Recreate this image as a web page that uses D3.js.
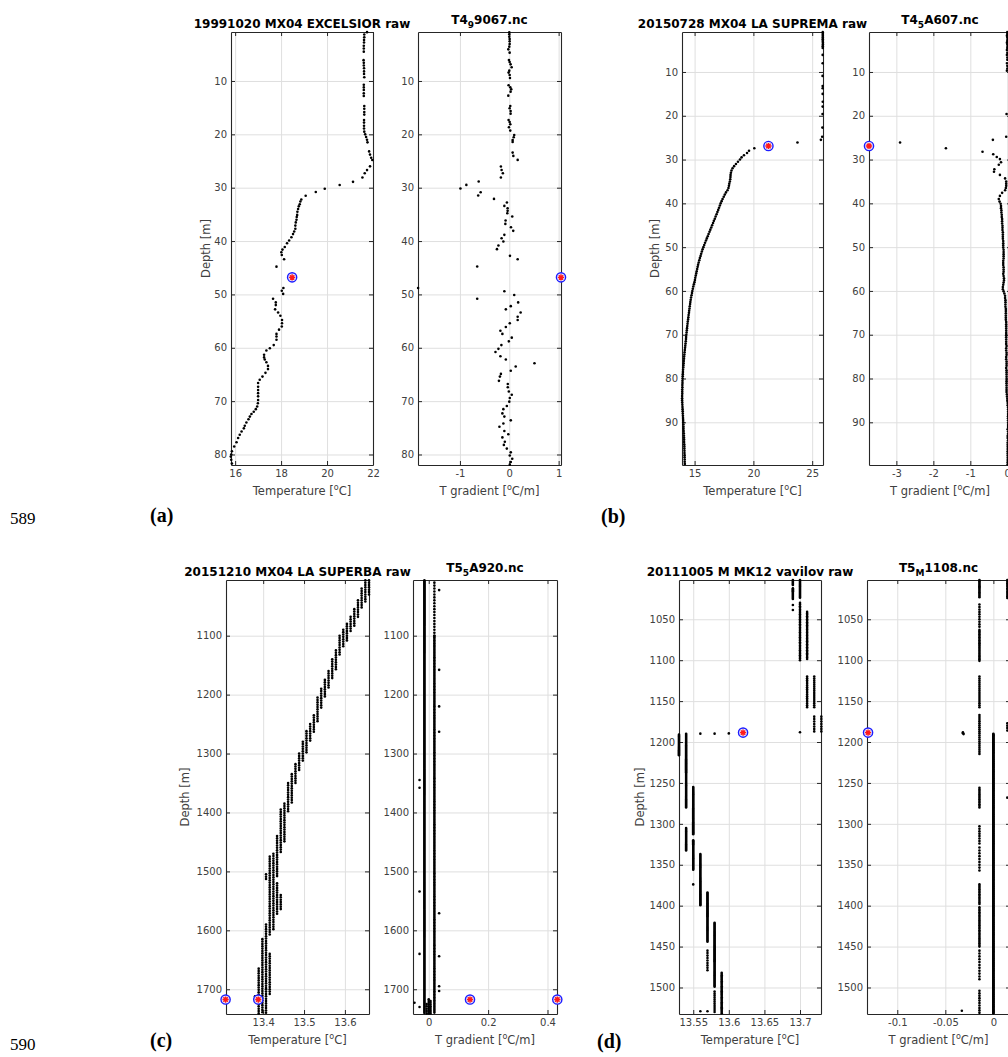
<!DOCTYPE html>
<html>
<head>
<meta charset="utf-8">
<script src="https://cdn.jsdelivr.net/npm/d3@7"></script>
<style>
  body { margin: 0; background: #fff; }
  svg text { font-family: "DejaVu Sans", sans-serif; }
</style>
</head>
<body>
<svg id="fig" width="1008" height="1057"></svg>
<script>
// ---------------------------------------------------------------------------
// Profile data: every point is [depth (m), value]
// ---------------------------------------------------------------------------

// (a) 19991020 MX04 EXCELSIOR
const tempA = [[0.85,21.74],[1.3,21.62],[1.8,21.62],[2.3,21.61],[2.8,21.61],[3.4,21.60],[3.9,21.60],[4.5,21.60],
  [6.1,21.59],[6.6,21.60],[7.1,21.60],[7.6,21.61],[8.2,21.61],[8.7,21.61],[9.3,21.62],[10.7,21.60],[11.2,21.60],
  [11.7,21.60],[12.3,21.60],[12.8,21.60],[14.7,21.62],[15.2,21.62],[15.8,21.62],[16.3,21.62],[17.3,21.61],
  [17.8,21.61],[18.4,21.61],[18.9,21.61],[19.5,21.62],[20.0,21.66],[20.5,21.70],[21.0,21.74],[21.5,21.76],
  [23.2,21.83],[23.8,21.87],[24.4,21.92],[24.8,21.97],[26.0,21.87],[26.7,21.74],[27.3,21.64],[28.1,21.54],
  [28.9,21.13],[29.5,20.55],[30.2,19.90],[30.8,19.51],[31.5,19.07],[32.2,18.88],[32.6,18.84],[33.1,18.81],
  [33.5,18.77],[34.0,18.74],[34.5,18.71],[35.1,18.70],[35.5,18.68],[36.0,18.67],[36.5,18.64],[37.1,18.62],
  [37.7,18.62],[38.2,18.57],[38.7,18.52],[39.3,18.45],[39.9,18.35],[40.4,18.26],[41.1,18.16],[41.6,18.06],
  [42.1,18.01],[42.6,18.03],[43.4,18.13],[44.8,17.80],[48.8,18.10],[49.3,18.03],[49.9,18.09],[50.8,17.65],
  [51.5,17.77],[52.0,17.77],[52.8,17.74],[53.4,17.87],[54.0,17.97],[54.8,18.04],[55.4,18.04],[56.0,18.03],
  [56.6,17.91],[57.4,17.80],[57.9,17.80],[58.5,17.80],[59.5,17.68],[60.1,17.51],[60.5,17.36],[61.3,17.26],
  [61.8,17.26],[62.2,17.29],[62.7,17.36],[63.4,17.43],[64.0,17.43],[64.7,17.32],[65.4,17.19],[66.0,17.07],
  [66.6,17.00],[67.3,17.00],[67.9,17.00],[68.5,17.00],[69.1,17.00],[69.8,17.00],[70.4,16.99],[71.0,16.96],
  [71.5,16.90],[72.0,16.81],[72.4,16.71],[72.9,16.64],[73.4,16.58],[74.0,16.49],[74.6,16.42],[75.1,16.38],
  [75.7,16.28],[76.3,16.20],[76.9,16.13],[77.7,16.06],[78.5,15.96],[79.4,15.86],[80.0,15.83],[80.4,15.81],
  [81.0,15.83],[81.7,15.86]];
const gradA = [[0.89,0.0],[1.26,0.0],[1.70,0.0],[2.13,0.007],[2.57,0.007],[3.07,0.007],[3.57,0.0],[4.07,-0.02],
  [4.69,0.007],[6.07,-0.007],[6.44,0.007],[6.88,0.027],[7.44,0.048],[8.06,0.0],[8.43,-0.014],[8.88,0.007],
  [9.44,0.014],[10.81,-0.014],[11.19,0.02],[11.56,0.04],[12.0,0.027],[12.75,-0.02],[14.68,0.02],[15.12,0.007],
  [15.62,0.027],[16.12,0.027],[17.30,-0.014],[17.68,0.007],[18.11,0.02],[18.68,-0.007],[19.30,0.02],[20.11,0.10],
  [20.55,0.09],[21.05,0.068],[21.42,0.068],[23.42,0.068],[24.04,0.082],[24.79,0.17],[26.04,-0.17],[26.67,-0.156],
  [27.29,-0.13],[28.10,-0.17],[28.85,-0.62],[29.48,-0.87],[30.16,-0.99],[30.85,-0.58],[31.47,-0.63],[32.10,-0.31],
  [32.78,-0.048],[33.41,-0.10],[33.85,-0.034],[34.34,-0.034],[34.78,-0.04],[35.41,0.06],[36.15,-0.075],
  [36.78,-0.08],[37.40,0.034],[38.09,0.08],[38.84,-0.10],[39.46,-0.156],[40.09,-0.12],[40.84,-0.22],[41.52,-0.25],
  [42.77,0.014],[43.40,0.17],[44.77,-0.65],[48.8,-1.848],[49.4,-0.10],[50.1,0.10],[50.8,-0.65],[51.5,0.18],
  [52.2,0.03],[52.8,-0.07],[53.4,0.23],[54.2,0.17],[54.8,0.17],[55.4,0.01],[56.1,-0.07],[56.8,-0.18],[57.4,-0.14],
  [58.1,0.05],[58.8,-0.01],[59.5,-0.16],[60.2,-0.22],[60.8,-0.28],[61.6,-0.18],[62.2,-0.07],[62.9,0.51],[63.5,0.13],
  [64.3,0.03],[64.9,-0.17],[65.4,-0.19],[66.2,-0.21],[66.8,-0.03],[67.4,-0.03],[68.2,-0.01],[68.8,0.05],[69.4,0.01],
  [70.1,0.0],[70.9,-0.05],[71.5,-0.12],[72.3,-0.14],[72.9,-0.10],[73.6,0.03],[74.2,-0.12],[74.8,-0.20],[75.6,-0.10],
  [76.2,-0.02],[76.8,-0.14],[77.6,-0.09],[78.2,-0.11],[78.9,-0.05],[79.6,0.03],[80.2,0.01],[80.8,0.06],[81.4,0.03],
  [81.9,0.01]];
const flagDepthA = 46.8, flagTempA = [18.48], flagGradA = [1.048];

// (b) 20150728 MX04 LA SUPREMA
const tempB = [[0.9,25.90],[1.3,25.90],[1.7,25.90],[2.1,25.90],[2.5,25.90],[2.9,25.90],[3.3,25.91],[3.7,25.91],
  [4.1,25.90],[4.5,25.90],[6.1,25.89],[8.0,25.89],[10.9,25.88],[13.2,25.89],[13.7,25.89],[15.0,25.89],[16.8,25.90],
  [17.9,25.89],[19.6,25.88],[22.7,25.87],[24.8,25.85],[25.5,25.74],[26.1,23.75],[27.4,20.08],[28.0,19.63],
  [28.5,19.46],[29.0,19.20],[29.5,19.00],[30.0,18.86],[30.5,18.69],[31.0,18.52],[31.5,18.36],[32.0,18.23],
  [32.5,18.14],[33.0,18.09],[33.5,18.06],[34.0,18.05],[34.5,18.03],[35.0,18.00],[35.5,17.95],[36.0,17.92],
  [36.5,17.88],[37.0,17.80],[37.5,17.67],[38.0,17.57],[38.5,17.48],[39.0,17.38],[39.5,17.30],[40.0,17.22],
  [40.5,17.15],[41.0,17.08],[41.5,17.01],[42.0,16.94],[42.5,16.87],[43.0,16.79],[43.5,16.72],[44.0,16.64],
  [44.5,16.57],[45.0,16.49],[45.5,16.42],[46.0,16.34],[46.5,16.27],[47.0,16.19],[47.5,16.12],[48.0,16.04],
  [48.5,15.97],[49.0,15.89],[49.5,15.82],[50.0,15.75],[50.5,15.68],[51.0,15.62],[51.5,15.56],[52.0,15.51],
  [52.5,15.45],[53.0,15.40],[53.5,15.35],[54.0,15.30],[54.5,15.26],[55.0,15.22],[55.5,15.18],[56.0,15.14],
  [56.5,15.10],[57.0,15.06],[57.5,15.03],[58.0,14.99],[58.5,14.94],[59.0,14.89],[59.5,14.85],[60.0,14.81],
  [60.5,14.78],[61.0,14.74],[61.5,14.70],[62.0,14.67],[62.5,14.64],[63.0,14.62],[63.5,14.59],[64.0,14.57],
  [64.5,14.54],[65.0,14.52],[65.5,14.49],[66.0,14.47],[66.5,14.45],[67.0,14.42],[67.5,14.40],[68.0,14.38],
  [68.5,14.36],[69.0,14.34],[69.5,14.32],[70.0,14.30],[70.5,14.28],[71.0,14.27],[71.5,14.25],[72.0,14.23],
  [72.5,14.21],[73.0,14.19],[73.5,14.17],[74.0,14.15],[74.5,14.13],[75.0,14.11],[75.5,14.10],[76.0,14.08],
  [76.5,14.07],[77.0,14.05],[77.5,14.04],[78.0,14.02],[78.5,14.01],[79.0,14.00],[79.5,13.99],[80.0,13.98],
  [80.5,13.97],[81.0,13.97],[81.5,13.96],[82.0,13.96],[82.5,13.95],[83.0,13.95],[83.5,13.95],[84.0,13.94],
  [84.5,13.94],[85.0,13.94],[85.5,13.95],[86.0,13.96],[86.5,13.97],[87.0,13.98],[87.5,13.99],[88.0,14.00],
  [88.5,14.01],[89.0,14.02],[89.5,14.03],[90.0,14.04],[90.5,14.05],[91.0,14.06],[91.5,14.06],[92.0,14.07],
  [92.5,14.08],[93.0,14.09],[93.5,14.10],[94.0,14.11],[94.5,14.11],[95.0,14.12],[95.5,14.13],[96.0,14.13],
  [96.5,14.14],[97.0,14.14],[97.5,14.15],[98.0,14.15],[98.5,14.16],[99.0,14.16],[99.5,14.17]];
const gradB = [[0.9,0.0],[1.3,0.0],[1.7,-0.01],[2.1,0.0],[2.5,0.01],[2.9,0.0],[3.3,-0.01],[3.7,0.0],[4.1,0.01],
  [4.5,0.0],[5.0,-0.01],[5.6,0.0],[6.1,-0.01],[6.7,0.0],[7.2,0.0],[8.0,-0.01],[8.6,0.0],[9.2,0.0],[9.7,-0.01],
  [19.6,-0.02],[24.8,-0.03],[25.5,-0.39],[26.1,-2.90],[27.4,-1.66],[28.2,-0.67],[28.8,-0.38],[29.4,-0.285],
  [29.9,-0.20],[30.6,-0.17],[31.2,-0.23],[32.2,-0.35],[32.8,-0.36],[33.5,-0.20],[34.3,-0.06],[35.0,-0.03],
  [35.5,-0.03],[36.0,-0.03],[36.5,-0.04],[37.0,-0.06],[37.6,-0.14],[38.3,-0.20],[39.0,-0.23],[39.6,-0.21],
  [40.1,-0.18],[40.6,-0.17],[41.1,-0.17],[41.6,-0.16],[42.1,-0.16],[42.6,-0.15],[43.1,-0.15],[43.6,-0.14],
  [44.1,-0.14],[44.6,-0.14],[45.1,-0.13],[45.6,-0.13],[46.1,-0.13],[46.6,-0.12],[47.1,-0.12],[47.6,-0.12],
  [48.1,-0.12],[48.6,-0.11],[49.1,-0.11],[49.6,-0.11],[50.1,-0.11],[50.6,-0.10],[51.1,-0.10],[51.6,-0.10],
  [52.1,-0.10],[52.6,-0.10],[53.1,-0.11],[53.6,-0.11],[54.1,-0.11],[54.6,-0.10],[55.1,-0.10],[55.6,-0.10],
  [56.1,-0.11],[56.6,-0.10],[57.1,-0.09],[57.6,-0.09],[58.1,-0.10],[58.6,-0.11],[59.1,-0.12],[59.6,-0.12],
  [60.1,-0.10],[60.6,-0.08],[61.1,-0.06],[61.6,-0.06],[62.1,-0.05],[62.6,-0.05],[63.1,-0.05],[63.6,-0.05],
  [64.1,-0.04],[64.6,-0.04],[65.1,-0.04],[65.6,-0.04],[66.1,-0.04],[66.6,-0.04],[67.1,-0.03],[67.6,-0.03],
  [68.1,-0.03],[68.6,-0.03],[69.1,-0.03],[69.6,-0.03],[70.1,-0.03],[70.6,-0.03],[71.1,-0.03],[71.6,-0.03],
  [72.1,-0.03],[72.6,-0.02],[73.1,-0.03],[73.6,-0.03],[74.1,-0.02],[74.6,-0.02],[75.1,-0.03],[75.6,-0.03],
  [76.1,-0.02],[76.6,-0.02],[77.1,-0.02],[77.6,-0.03],[78.1,-0.02],[78.6,-0.02],[79.1,-0.02],[79.6,-0.02],
  [80.1,-0.02],[80.6,-0.02],[81.1,-0.02],[81.6,-0.02],[82.1,-0.02],[82.6,-0.02],[83.1,-0.02],[83.6,-0.01],
  [84.1,-0.01],[84.6,0.0],[85.1,0.0],[85.6,0.01],[86.1,0.01],[86.6,0.02],[87.1,0.02],[87.6,0.02],[88.1,0.02],
  [88.6,0.02],[89.1,0.02],[89.6,0.02],[90.1,0.02],[90.6,0.02],[91.1,0.02],[91.6,0.01],[92.1,0.02],[92.6,0.02],
  [93.1,0.01],[93.6,0.01],[94.1,0.02],[94.6,0.01],[95.1,0.01],[95.6,0.01],[96.1,0.01],[96.6,0.01],[97.1,0.01],
  [97.6,0.01],[98.1,0.01],[98.6,0.01],[99.1,0.01],[99.6,0.01]];
const flagDepthB = 26.9, flagTempB = [21.28], flagGradB = [-3.74];

// (c) 20151210 MX04 LA SUPERBA — runs of samples: [value, top depth, bottom depth, depth bin]
const tempRunsC = [[13.659,1006,1030,4],[13.650,1006,1045,4],[13.641,1020,1055,4],[13.632,1040,1070,4],
  [13.623,1055,1085,4],[13.614,1068,1095,4],[13.605,1080,1110,4],[13.596,1090,1120,4],[13.587,1100,1135,4],
  [13.578,1125,1160,4],[13.569,1140,1175,4],[13.560,1160,1190,4],[13.551,1175,1205,4],[13.542,1190,1225,4],
  [13.533,1205,1245,4],[13.524,1235,1265,4],[13.515,1250,1280,4],[13.506,1262,1300,4],[13.497,1280,1315,4],
  [13.488,1300,1330,4],[13.479,1318,1350,4],[13.470,1335,1385,4],[13.461,1350,1400,4],[13.452,1385,1450,4],
  [13.443,1395,1470,4],[13.434,1440,1510,4],[13.425,1470,1600,4],[13.416,1475,1610,4],[13.434,1520,1575,4],
  [13.443,1540,1565,4],[13.407,1505,1515,4],[13.407,1590,1700,4],[13.398,1615,1742,4],[13.416,1640,1710,4],
  [13.389,1665,1742,4],[13.407,1700,1742,4],[13.380,1712,1716,4]];
const gradRunsC = [[-0.0146,1006,1742,1.7],[0.019,1010,1100,5],[0.019,1100,1742,2.6],
  [0.035,1022.6],[0.035,1158],[0.035,1220],[0.035,1263],[-0.031,1345],[-0.031,1358],[-0.031,1534],
  [0.035,1571],[-0.031,1640],[0.035,1644],[0.035,1695],[0.035,1703],[-0.048,1723],[-0.031,1730],
  [0,1717,1742,3],[0.006,1720,1742,3],[-0.007,1725,1742,4]];
const flagDepthC = 1717.5, flagTempC = [13.308, 13.388], flagGradC = [0.139, 0.433];

// (d) 20111005 M MK12 vavilov
const tempRunsD = [[13.69,1002,1008,1.2],[13.69,1012,1026,1.2],[13.69,1032.5],[13.69,1038.6],
  [13.70,1002,1024,1.2],[13.70,1030,1100,2.0],[13.70,1188],[13.71,1041,1100,1.8],[13.71,1120,1158,2.2],
  [13.72,1120,1158,2.5],[13.72,1169,1187,3],[13.73,1169,1187,3],
  [13.56,1189.8],[13.58,1189.8],[13.60,1189.5],
  [13.53,1191,1217,1.2],[13.54,1190,1280,1.2],[13.54,1305,1333,1.2],
  [13.55,1255,1313,1.2],[13.55,1320,1356,1.2],[13.55,1374],
  [13.56,1337,1400,1.2],[13.56,1529],[13.57,1384,1445,1.2],[13.57,1455,1480,3],[13.57,1529],
  [13.58,1421,1500,1.2],[13.58,1505,1532,2.5],[13.59,1482,1532,1.5]];
const gradRunsD = [[-0.0145,1002,1024,1.5],[-0.0145,1032,1059,3],[-0.0145,1063,1102,1.8],
  [-0.0145,1120,1158,2.5],[-0.0145,1167,1215,2.5],[-0.0145,1256,1280,2],[-0.0145,1303,1325,3],
  [-0.0145,1329,1358,3.5],[-0.0145,1374,1398,2],[-0.0145,1402,1451,2],[-0.0145,1455,1492,3.5],
  [-0.0145,1504,1532,3],[0,1190,1532,0.8],
  [-0.0317,1188],[-0.0317,1189.2],[-0.031,1190.3],[-0.0328,1528.5],
  [0.0145,1002,1024,2],[0.0145,1177,1187,3],[0.0145,1268]];
const flagDepthD = 1188.5, flagTempD = [13.620], flagGradD = [-0.1304];

// Axis limits and tick values
const limitsA = {temp: [15.82, 22.0], grad: [-1.85, 1.048], depth: [0.82, 81.97]};
const limitsB = {temp: [13.93, 25.92], grad: [-3.74, 0.1], depth: [0.87, 99.75]};
const limitsC = {temp: [13.309, 13.659], grad: [-0.053, 0.432], depth: [1005.5, 1742]};
const limitsD = {temp: [13.53, 13.7295], grad: [-0.1315, 0.0173], depth: [1002, 1532.4]};

const ticksA = {temp: [16, 18, 20, 22], grad: [-1, 0, 1], depth: [10, 20, 30, 40, 50, 60, 70, 80]};
const ticksB = {temp: [15, 20, 25], grad: [-3, -2, -1, 0], depth: [10, 20, 30, 40, 50, 60, 70, 80, 90]};
const ticksC = {temp: [13.4, 13.5, 13.6], grad: [0, 0.2, 0.4], depth: [1100, 1200, 1300, 1400, 1500, 1600, 1700]};
const ticksD = {temp: [13.55, 13.6, 13.65, 13.7], grad: [-0.1, -0.05, 0],
  depth: [1050, 1100, 1150, 1200, 1250, 1300, 1350, 1400, 1450, 1500]};

// Titles: plain text for the cast, [before, subscript, after] for the file name
const castTitles = ["19991020 MX04 EXCELSIOR raw", "20150728 MX04 LA SUPREMA raw",
  "20151210 MX04 LA SUPERBA raw", "20111005 M MK12 vavilov raw"];
const fileTitles = [["T4", "9", "9067.nc"], ["T4", "5", "A607.nc"], ["T5", "5", "A920.nc"], ["T5", "M", "1108.nc"]];
const panelLetters = ["(a)", "(b)", "(c)", "(d)"];
const lineNumbers = ["589", "590"];

// ---------------------------------------------------------------------------
// Layout
// ---------------------------------------------------------------------------
const boxes = [ // [left, right, top, bottom] of the temperature and gradient axes
  {temp: [231, 373, 32, 465], grad: [418, 561, 32, 465], depthLabelX: 210, letter: [150, 522]},
  {temp: [682, 823, 32, 465], grad: [869, 1011, 32, 465], depthLabelX: 659, letter: [601, 523]},
  {temp: [226, 369, 580, 1014], grad: [413, 557, 580, 1014], depthLabelX: 189, letter: [150, 1047]},
  {temp: [679, 821, 580, 1014], grad: [867, 1010, 580, 1014], depthLabelX: 644, letter: [597, 1048]}
];

const expand = runs => {
  const pts = [];
  runs.forEach(([v, d0, d1 = d0, step = 1]) => {
    for (let d = d0; d <= d1 + 1e-6; d += step) pts.push([d, v]);
  });
  return pts;
};

const panels = [
  {temp: tempA, grad: gradA, lim: limitsA, ticks: ticksA, flagDepth: flagDepthA, flagTemp: flagTempA, flagGrad: flagGradA},
  {temp: tempB, grad: gradB, lim: limitsB, ticks: ticksB, flagDepth: flagDepthB, flagTemp: flagTempB, flagGrad: flagGradB},
  {temp: expand(tempRunsC), grad: expand(gradRunsC), lim: limitsC, ticks: ticksC,
    flagDepth: flagDepthC, flagTemp: flagTempC, flagGrad: flagGradC},
  {temp: expand(tempRunsD), grad: expand(gradRunsD), lim: limitsD, ticks: ticksD,
    flagDepth: flagDepthD, flagTemp: flagTempD, flagGrad: flagGradD}
];

const svg = d3.select("#fig");
const AXIS = "#262626", LABEL = "#404040", GRID = "#dfdfdf";
const fmt = d => String(d);

function drawAxes(rect, xDom, yDom, xTicks, yTicks) {
  const [l, r, t, b] = rect;
  const x = d3.scaleLinear().domain(xDom).range([l, r]);
  const y = d3.scaleLinear().domain(yDom).range([t, b]);
  const g = svg.append("g");

  // grid
  const gx = g.append("g").attr("transform", `translate(0,${b})`)
    .call(d3.axisBottom(x).tickValues(xTicks).tickSize(-(b - t)).tickFormat(""));
  const gy = g.append("g").attr("transform", `translate(${l},0)`)
    .call(d3.axisLeft(y).tickValues(yTicks).tickSize(-(r - l)).tickFormat(""));
  [gx, gy].forEach(s => {
    s.select(".domain").remove();
    s.selectAll("line").attr("stroke", GRID).attr("stroke-width", 1);
  });

  // box with inward ticks on all four sides
  const sides = [
    g.append("g").attr("transform", `translate(0,${b})`)
      .call(d3.axisBottom(x).tickValues(xTicks).tickSizeInner(-4).tickSizeOuter(0).tickPadding(5).tickFormat(fmt)),
    g.append("g").attr("transform", `translate(0,${t})`)
      .call(d3.axisTop(x).tickValues(xTicks).tickSizeInner(-4).tickSizeOuter(0).tickFormat("")),
    g.append("g").attr("transform", `translate(${l},0)`)
      .call(d3.axisLeft(y).tickValues(yTicks).tickSizeInner(-4).tickSizeOuter(0).tickPadding(4).tickFormat(fmt)),
    g.append("g").attr("transform", `translate(${r},0)`)
      .call(d3.axisRight(y).tickValues(yTicks).tickSizeInner(-4).tickSizeOuter(0).tickFormat(""))
  ];
  sides.forEach(s => {
    s.attr("font-family", null).attr("font-size", null);
    s.select(".domain").attr("stroke", AXIS).attr("stroke-width", 1.1);
    s.selectAll(".tick line").attr("stroke", AXIS);
    s.selectAll(".tick text").attr("fill", LABEL).style("font-size", "10px");
  });
  return {x, y, g};
}

function drawDots(ax, pts) {
  ax.g.append("g").selectAll("circle").data(pts).join("circle")
    .attr("cx", d => ax.x(d[1])).attr("cy", d => ax.y(d[0]))
    .attr("r", 1.3).attr("fill", "#000");
}

function drawFlags(ax, depth, values) {
  values.forEach(v => {
    const cx = ax.x(v), cy = ax.y(depth), s = 3.1, q = 2.2;
    const m = ax.g.append("g").attr("transform", `translate(${cx},${cy})`);
    m.append("circle").attr("r", 4.6).attr("fill", "#e8e8ff").attr("stroke", "#1c1cff").attr("stroke-width", 1.4);
    m.append("path")
      .attr("d", `M${-s},0H${s}M0,${-s}V${s}M${-q},${-q}L${q},${q}M${-q},${q}L${q},${-q}`)
      .attr("stroke", "#ff1a1a").attr("stroke-width", 1.4);
  });
}

function xLabel(cx, y, main, unit) {
  const t = svg.append("text").attr("x", cx).attr("y", y).attr("text-anchor", "middle")
    .attr("fill", LABEL).style("font-size", "11.5px");
  t.append("tspan").text(main + " [");
  t.append("tspan").attr("dy", -4.5).style("font-size", "8px").text("o");
  t.append("tspan").attr("dy", 4.5).text(unit + "]");
}

panels.forEach((p, i) => {
  const box = boxes[i];
  const tAx = drawAxes(box.temp, p.lim.temp, p.lim.depth, p.ticks.temp, p.ticks.depth);
  const gAx = drawAxes(box.grad, p.lim.grad, p.lim.depth, p.ticks.grad, p.ticks.depth);
  drawDots(tAx, p.temp);
  drawDots(gAx, p.grad);
  drawFlags(tAx, p.flagDepth, p.flagTemp);
  drawFlags(gAx, p.flagDepth, p.flagGrad);

  const [tl, tr, tt, tb] = box.temp;
  const [gl, gr] = box.grad;

  // titles
  svg.append("text").attr("x", (tl + tr) / 2).attr("y", tt - 4).attr("text-anchor", "middle")
    .attr("font-weight", "bold").attr("fill", "#000").style("font-size", "12px").text(castTitles[i]);
  const ft = svg.append("text").attr("x", (gl + gr) / 2).attr("y", tt - 8.5).attr("text-anchor", "middle")
    .attr("font-weight", "bold").attr("fill", "#000").style("font-size", "12px");
  ft.append("tspan").text(fileTitles[i][0]);
  ft.append("tspan").attr("dy", 4.5).style("font-size", "9px").text(fileTitles[i][1]);
  ft.append("tspan").attr("dy", -4.5).text(fileTitles[i][2]);

  // axis labels
  xLabel((tl + tr) / 2, tb + 29.5, "Temperature", "C");
  xLabel((gl + gr) / 2, tb + 29.5, "T gradient", "C/m");
  svg.append("text").attr("transform", `translate(${box.depthLabelX},${(tt + tb) / 2}) rotate(-90)`)
    .attr("text-anchor", "middle").attr("fill", LABEL).style("font-size", "11.5px").text("Depth [m]");

  // panel letter
  svg.append("text").attr("x", box.letter[0]).attr("y", box.letter[1])
    .attr("font-weight", "bold").attr("fill", "#000")
    .style("font-family", "'Liberation Serif', 'Times New Roman', serif").style("font-size", "20px")
    .text(panelLetters[i]);
});

// manuscript line numbers
lineNumbers.forEach((n, i) => {
  svg.append("text").attr("x", 10).attr("y", i === 0 ? 524 : 1050).attr("fill", "#000")
    .style("font-family", "'Liberation Serif', 'Times New Roman', serif").style("font-size", "17px").text(n);
});
</script>
</body>
</html>
